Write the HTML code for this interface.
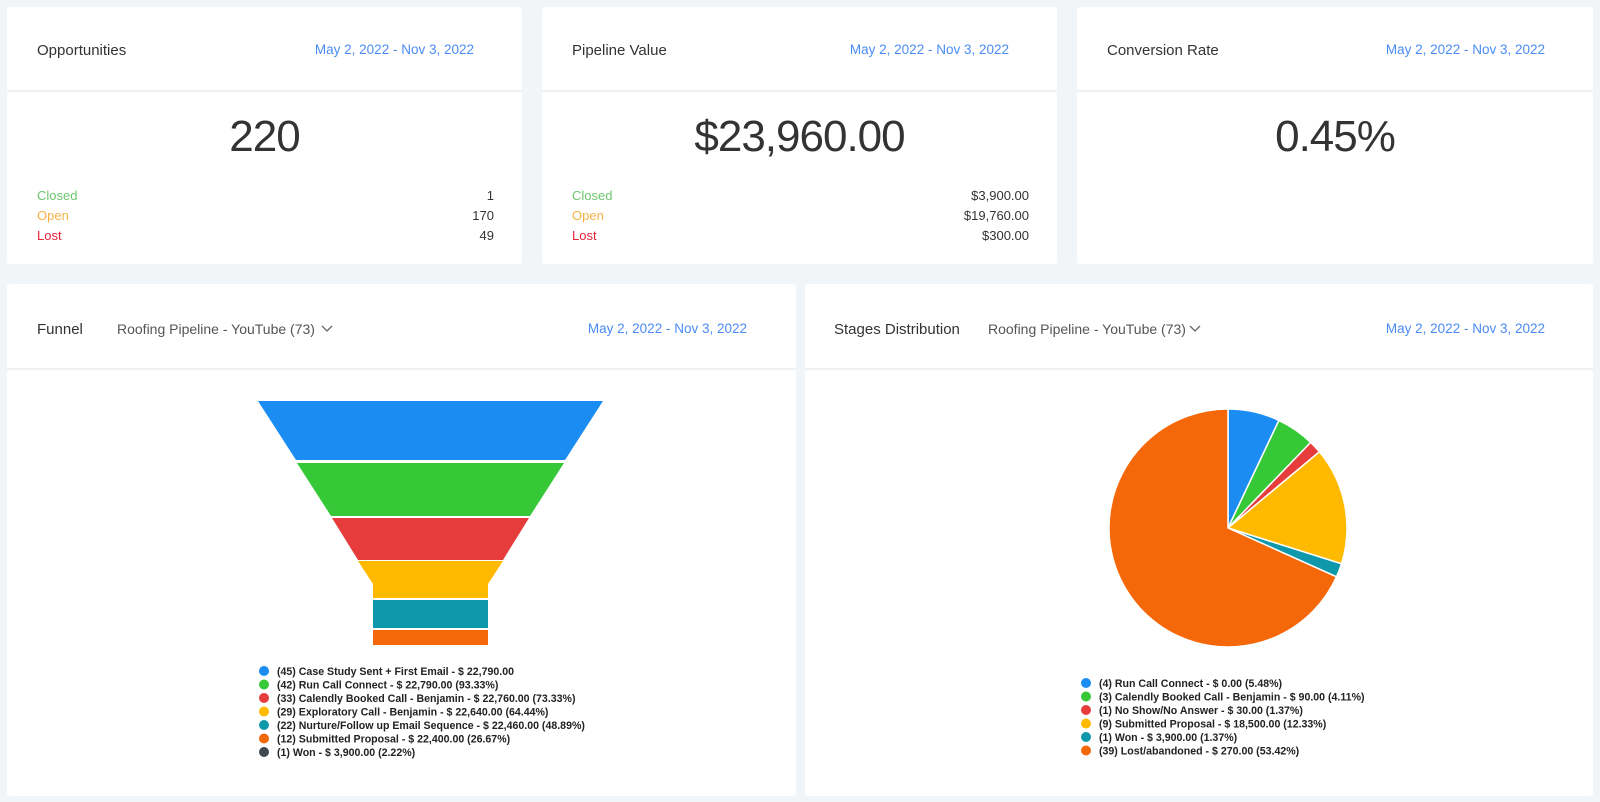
<!DOCTYPE html>
<html><head><meta charset="utf-8"><style>
body{margin:0;width:1600px;height:802px;background:#f1f5f8;font-family:"Liberation Sans",Arial,sans-serif;position:relative;overflow:hidden}
.card{position:absolute;background:#fff;border-radius:3px}
.div{position:absolute;left:0;right:0;height:2px;background:#eef2f5}
.t{position:absolute;white-space:nowrap}
.title{font-size:15px;color:#333}
.date{font-size:13.5px;color:#4a8cf5}
.big{font-size:44px;font-weight:300;color:#333;left:0;right:0;text-align:center;letter-spacing:-1px}
.lab{font-size:13px}
.val{font-size:13px;color:#333;text-align:right}
.sel{font-size:14px;color:#555}
svg{position:absolute;left:0;top:0}
</style></head><body>

<div class="card" style="left:7px;top:7px;width:515px;height:257px">
 <div class="div" style="top:83px"></div>
 <div class="t title" style="left:30px;top:35px">Opportunities</div>
 <div class="t date" style="right:48px;top:35px">May 2, 2022 - Nov 3, 2022</div>
 <div class="t big" style="top:105px">220</div>
 <div class="t lab" style="left:30px;top:181px;color:#6cc56c">Closed</div>
 <div class="t lab" style="left:30px;top:201px;color:#f8b046">Open</div>
 <div class="t lab" style="left:30px;top:221px;color:#e8243a">Lost</div>
 <div class="t val" style="right:28px;top:181px">1</div>
 <div class="t val" style="right:28px;top:201px">170</div>
 <div class="t val" style="right:28px;top:221px">49</div>
</div>

<div class="card" style="left:542px;top:7px;width:515px;height:257px">
 <div class="div" style="top:83px"></div>
 <div class="t title" style="left:30px;top:35px">Pipeline Value</div>
 <div class="t date" style="right:48px;top:35px">May 2, 2022 - Nov 3, 2022</div>
 <div class="t big" style="top:105px">$23,960.00</div>
 <div class="t lab" style="left:30px;top:181px;color:#6cc56c">Closed</div>
 <div class="t lab" style="left:30px;top:201px;color:#f8b046">Open</div>
 <div class="t lab" style="left:30px;top:221px;color:#e8243a">Lost</div>
 <div class="t val" style="right:28px;top:181px">$3,900.00</div>
 <div class="t val" style="right:28px;top:201px">$19,760.00</div>
 <div class="t val" style="right:28px;top:221px">$300.00</div>
</div>

<div class="card" style="left:1077px;top:7px;width:516px;height:257px">
 <div class="div" style="top:83px"></div>
 <div class="t title" style="left:30px;top:35px">Conversion Rate</div>
 <div class="t date" style="right:48px;top:35px">May 2, 2022 - Nov 3, 2022</div>
 <div class="t big" style="top:105px">0.45%</div>
</div>

<div class="card" style="left:7px;top:284px;width:789px;height:512px">
 <div class="div" style="top:84px"></div>
 <div class="t title" style="left:30px;top:37px">Funnel</div>
 <div class="t sel" style="left:110px;top:37px">Roofing Pipeline - YouTube (73)</div>
 <div class="t date" style="right:49px;top:37px">May 2, 2022 - Nov 3, 2022</div>
</div>

<div class="card" style="left:805px;top:284px;width:788px;height:512px">
 <div class="div" style="top:84px"></div>
 <div class="t title" style="left:29px;top:37px">Stages Distribution</div>
 <div class="t sel" style="left:183px;top:37px">Roofing Pipeline - YouTube (73)</div>
 <div class="t date" style="right:48px;top:37px">May 2, 2022 - Nov 3, 2022</div>
</div>

<svg width="1600" height="802" viewBox="0 0 1600 802">
 <g fill="none" stroke="#666" stroke-width="1.3">
  <polyline points="322,326 327,331 332,326"/>
  <polyline points="1190,326 1195,331 1200,326"/>
 </g>
 <polygon points="258,401 603,401 565,460 296,460" fill="#1a8cf2"/>
 <polygon points="297,463 564,463 530,516 331,516" fill="#36c837"/>
 <polygon points="332,518 529,518 503,560 358,560" fill="#e63c3c"/>
 <polygon points="358,561 503,561 488,584 488,598 373,598 373,584" fill="#ffba00"/>
 <rect x="373" y="600" width="115" height="28" fill="#0f98ab"/>
 <rect x="373" y="630" width="115" height="15" fill="#f5680a"/>
 <g stroke="#fff" stroke-width="1.5">
  <path d="M1228,528 L1228,409 A119,119 0 0 1 1278.9,420.4 Z" fill="#1a8cf2"/>
  <path d="M1228,528 L1278.9,420.4 A119,119 0 0 1 1310.7,442.4 Z" fill="#36c837"/>
  <path d="M1228,528 L1310.7,442.4 A119,119 0 0 1 1319.4,451.8 Z" fill="#e63c3c"/>
  <path d="M1228,528 L1319.4,451.8 A119,119 0 0 1 1341.5,563.8 Z" fill="#ffba00"/>
  <path d="M1228,528 L1341.5,563.8 A119,119 0 0 1 1336.5,576.8 Z" fill="#0f98ab"/>
  <path d="M1228,528 L1336.5,576.8 A119,119 0 1 1 1228,409 Z" fill="#f5680a"/>
 </g>
 <g>
  <circle cx="264" cy="671" r="5" fill="#1a8cf2"/>
  <circle cx="264" cy="684.5" r="5" fill="#36c837"/>
  <circle cx="264" cy="698" r="5" fill="#e63c3c"/>
  <circle cx="264" cy="711.5" r="5" fill="#ffba00"/>
  <circle cx="264" cy="725" r="5" fill="#0f98ab"/>
  <circle cx="264" cy="738.5" r="5" fill="#f5680a"/>
  <circle cx="264" cy="752" r="5" fill="#404850"/>
 </g>
 <g fill="#222" font-family="Liberation Sans, Arial, sans-serif" font-size="10.6" font-weight="bold">
  <text x="277" y="675">(45) Case Study Sent + First Email - $ 22,790.00</text>
  <text x="277" y="688.5">(42) Run Call Connect - $ 22,790.00 (93.33%)</text>
  <text x="277" y="702">(33) Calendly Booked Call - Benjamin - $ 22,760.00 (73.33%)</text>
  <text x="277" y="715.5">(29) Exploratory Call - Benjamin - $ 22,640.00 (64.44%)</text>
  <text x="277" y="729">(22) Nurture/Follow up Email Sequence - $ 22,460.00 (48.89%)</text>
  <text x="277" y="742.5">(12) Submitted Proposal - $ 22,400.00 (26.67%)</text>
  <text x="277" y="756">(1) Won - $ 3,900.00 (2.22%)</text>
 </g>
 <g>
  <circle cx="1086" cy="683" r="5" fill="#1a8cf2"/>
  <circle cx="1086" cy="696.5" r="5" fill="#36c837"/>
  <circle cx="1086" cy="710" r="5" fill="#e63c3c"/>
  <circle cx="1086" cy="723.5" r="5" fill="#ffba00"/>
  <circle cx="1086" cy="737" r="5" fill="#0f98ab"/>
  <circle cx="1086" cy="750.5" r="5" fill="#f5680a"/>
 </g>
 <g fill="#222" font-family="Liberation Sans, Arial, sans-serif" font-size="10.6" font-weight="bold">
  <text x="1099" y="687">(4) Run Call Connect - $ 0.00 (5.48%)</text>
  <text x="1099" y="700.5">(3) Calendly Booked Call - Benjamin - $ 90.00 (4.11%)</text>
  <text x="1099" y="714">(1) No Show/No Answer - $ 30.00 (1.37%)</text>
  <text x="1099" y="727.5">(9) Submitted Proposal - $ 18,500.00 (12.33%)</text>
  <text x="1099" y="741">(1) Won - $ 3,900.00 (1.37%)</text>
  <text x="1099" y="754.5">(39) Lost/abandoned - $ 270.00 (53.42%)</text>
 </g>
</svg>
</body></html>
